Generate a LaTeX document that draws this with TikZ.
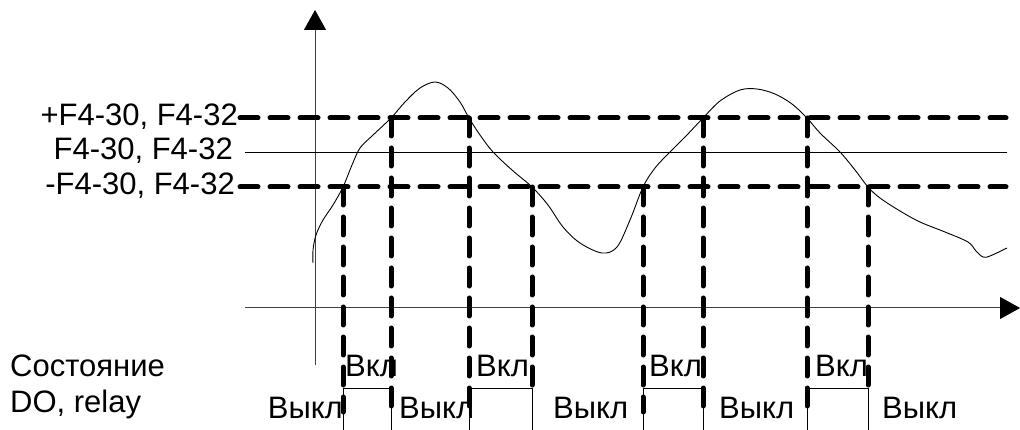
\documentclass[tikz,border=0pt]{standalone}
\usepackage{fontspec}
\setmainfont{Liberation Sans}
\usetikzlibrary{arrows.meta}
\begin{document}
\begin{tikzpicture}[x=1pt,y=-1pt,
  thickdash/.style={line width=5pt, line cap=round, dash pattern=on 18pt off 12pt},
  thinline/.style={line width=0.9pt},
  axisline/.style={line width=1pt, black!75},
  axisarrow/.style={-{Triangle[length=20pt,width=22pt,color=black]}},
  lbl/.style={inner sep=0pt, font=\fontsize{31}{37}\selectfont}]
\useasboundingbox (0,0) rectangle (1020,430);

% axes
\coordinate (yb) at (315,365);
\coordinate (yt) at (315,10);
\coordinate (xl) at (245,308);
\coordinate (xr) at (1020,308);
\draw[axisline, axisarrow] (yb) -- (yt);
\draw[axisline, axisarrow] (xl) -- (xr);

% threshold labels
\node[lbl, anchor=base east] (lup) at (238,126) {+F4-30, F4-32};
\node[lbl, anchor=base east] (lmid) at (233,160) {F4-30, F4-32};
\node[lbl, anchor=base east] (llow) at (235,195) {-F4-30, F4-32};

% threshold lines
\coordinate (upE) at (1006,118);
\coordinate (midS) at (245,152);
\coordinate (midE) at (1007,152);
\coordinate (lowE) at (1006,187);
\draw[thickdash] (240,118) -- (upE);
\draw[thinline] (midS) -- (midE);
\draw[thickdash] (240,187) -- (lowE);

% signal curve
\draw[thinline] plot[smooth, tension=0.55] coordinates {
 (313,263) (313,250) (316,235) (323,220) (333,205) (343,187) (352,165)
 (360,148) (372,136) (391,118) (405,102) (420,88) (435,82) (448,88)
 (460,102) (469,118) (480,135) (493,152) (512,170) (532,187) (548,205)
 (563,227) (580,243) (602,253) (617,247) (630,220) (643,187) (655,168)
 (670,152) (686,136) (703,118) (720,101) (740,90) (757,89) (775,94)
 (792,104) (807,118) (820,133) (840,152) (855,170) (868,187) (880,198)
 (900,211) (920,222) (945,232) (968,242) (976,251) (983,257) (990,256)
 (1007,248)};

% vertical dashed transitions
\foreach \x/\ya/\yb in {343/187/412, 391/118/412, 469/118/412, 532/187/385,
                        643/187/412, 703/118/412, 807/118/412, 868/187/385}{
  \draw[thickdash] (\x,\ya) -- (\x,\yb);
}

% relay state square wave
\foreach \a/\b in {343/391, 469/532, 643/703, 807/868}{
  \draw[thinline] (\a,430) -- (\a,388) -- (\b,388) -- (\b,430);
}

% state labels
\node[lbl, anchor=base west] (st1) at (10,376) {Состояние};
\node[lbl, anchor=base west] (st2) at (10,412) {DO, relay};

\node[lbl, anchor=base west] (on1) at (345,376) {Вкл};
\node[lbl, anchor=base west] (on2) at (476,376) {Вкл};
\node[lbl, anchor=base west] (on3) at (649,376) {Вкл};
\node[lbl, anchor=base west] (on4) at (815,376) {Вкл};

\node[lbl, anchor=base east] (off1) at (343,418) {Выкл};
\node[lbl, anchor=base west] (off2) at (399,418) {Выкл};
\node[lbl, anchor=base west] (off3) at (553,418) {Выкл};
\node[lbl, anchor=base west] (off4) at (719,418) {Выкл};
\node[lbl, anchor=base west] (off5) at (882,418) {Выкл};
\end{tikzpicture}
\end{document}
